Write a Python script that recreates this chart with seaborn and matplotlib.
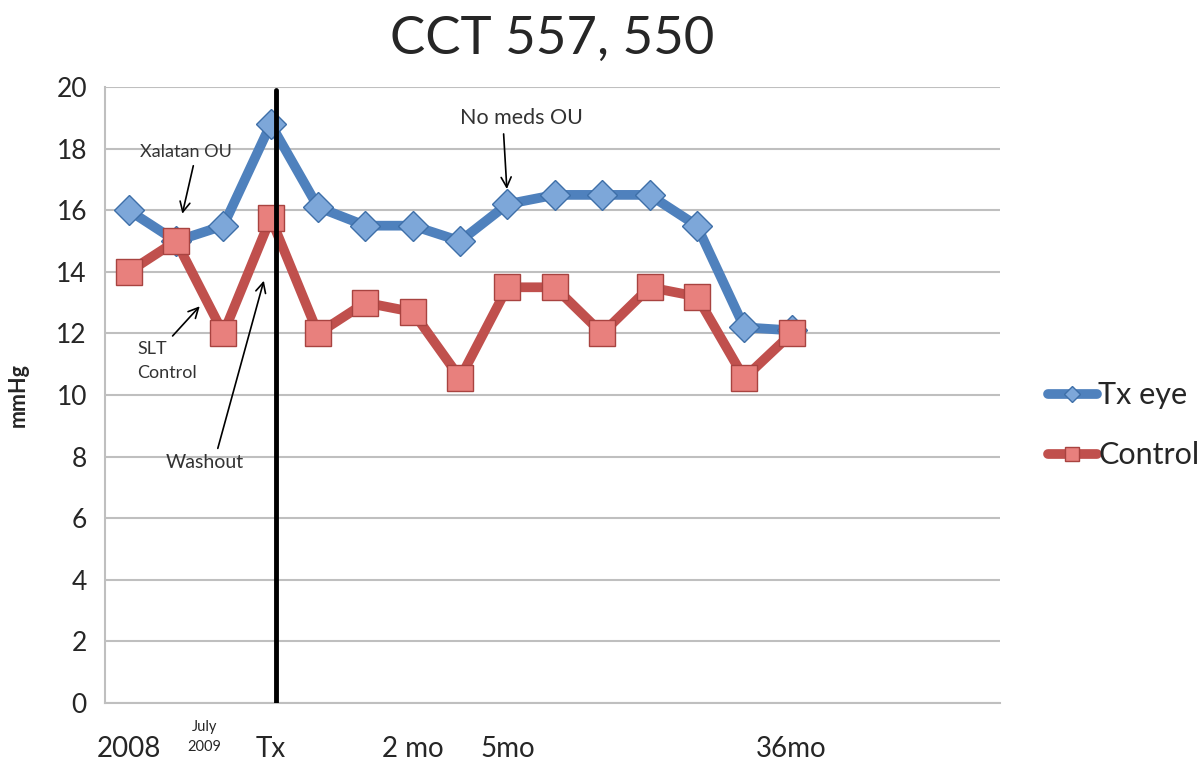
import matplotlib
matplotlib.use("Agg")
import matplotlib.pyplot as plt
import numpy as np
import pandas as pd
import seaborn as sns

# data
visits = list(range(15))
tx_eye = [16.0, 15.0, 15.5, 18.8, 16.1, 15.5, 15.5, 15.0, 16.2, 16.5, 16.5, 16.5, 15.5, 12.2, 12.1]
control = [14.0, 15.0, 12.0, 15.75, 12.0, 13.0, 12.7, 10.55, 13.5, 13.5, 12.0, 13.5, 13.2, 10.55, 12.0]
tick_pos = [0, 3, 6, 8, 14]
tick_labels = ["2008", "Tx", "2 mo", "5mo", "36mo"]

df = pd.DataFrame({"visit": visits, "Tx eye": tx_eye, "Control": control})

sns.set_style("white")
plt.rcParams['font.family'] = ['Lato', 'DejaVu Sans']

fig = plt.figure(figsize=(12, 7.66), dpi=100)
ax = fig.add_axes([0.0875, 0.0822, 0.7458, 0.8041])

sns.lineplot(x="visit", y="Tx eye", data=df, ax=ax, color="#4F81BD", linewidth=7,
             marker="D", markersize=15.5, markerfacecolor="#7DA7D9",
             markeredgecolor="#3E6FA8", markeredgewidth=1, label="Tx eye")
sns.lineplot(x="visit", y="Control", data=df, ax=ax, color="#C0504D", linewidth=7,
             marker="s", markersize=19, markerfacecolor="#E8807D",
             markeredgecolor="#A84340", markeredgewidth=1, label="Control")

ax.axvline(3.12, ymin=0, ymax=0.995, color="black", linewidth=3.5, zorder=5)

ax.set_xlim(-0.5, 18.4)
ax.set_ylim(0, 20)
ax.set_yticks(np.arange(0, 21, 2))
ax.yaxis.grid(True, color="#BFBFBF", linewidth=1.5)
ax.set_axisbelow(True)
for s in ["top", "right"]:
    ax.spines[s].set_visible(False)
for s in ["left", "bottom"]:
    ax.spines[s].set_color("#BFBFBF")
    ax.spines[s].set_linewidth(1.5)
ax.tick_params(axis="y", labelsize=19, length=0, pad=13)
ax.set_xticks(tick_pos)
ax.set_xticklabels(tick_labels)
ax.tick_params(axis="x", labelsize=20, length=0, pad=24)
ax.text(1.6, -0.055, "July\n2009", transform=ax.get_xaxis_transform(),
        ha="center", va="center", fontsize=10.5, linespacing=1.6)

ax.set_xlabel("")
ax.set_ylabel("mmHg", fontsize=15.5, fontweight="bold", labelpad=20)
ax.set_title("CCT 557, 550", fontsize=38, pad=24)

# annotations
arr = dict(arrowstyle="->", color="black", lw=1.2, mutation_scale=18)
ax.annotate("Xalatan OU", xy=(1.12, 15.8), xytext=(1.2, 17.9), fontsize=13,
            ha="center", va="center", color="#333333",
            arrowprops=dict(arr, relpos=(0.6, 0.0)))
ax.annotate("No meds OU", xy=(7.99, 16.6), xytext=(8.3, 19.0), fontsize=15.5,
            ha="center", va="center", color="#333333",
            arrowprops=dict(arr, relpos=(0.35, 0.0)))
ax.annotate("SLT\nControl", xy=(1.54, 12.95), xytext=(0.18, 11.1), fontsize=13,
            ha="left", va="center", color="#333333", linespacing=1.6,
            arrowprops=dict(arr, relpos=(0.45, 0.9)))
ax.annotate("Washout", xy=(2.87, 13.8), xytext=(1.6, 7.8), fontsize=14,
            ha="center", va="center", color="#333333",
            arrowprops=dict(arr, relpos=(0.65, 1.0)))

ax.legend(loc="center left", bbox_to_anchor=(1.04, 0.451), frameon=False,
          borderaxespad=0, fontsize=22, handlelength=1.6, handletextpad=0.05,
          labelspacing=1.05, markerscale=0.55)

fig.savefig("out.png", dpi=100)
